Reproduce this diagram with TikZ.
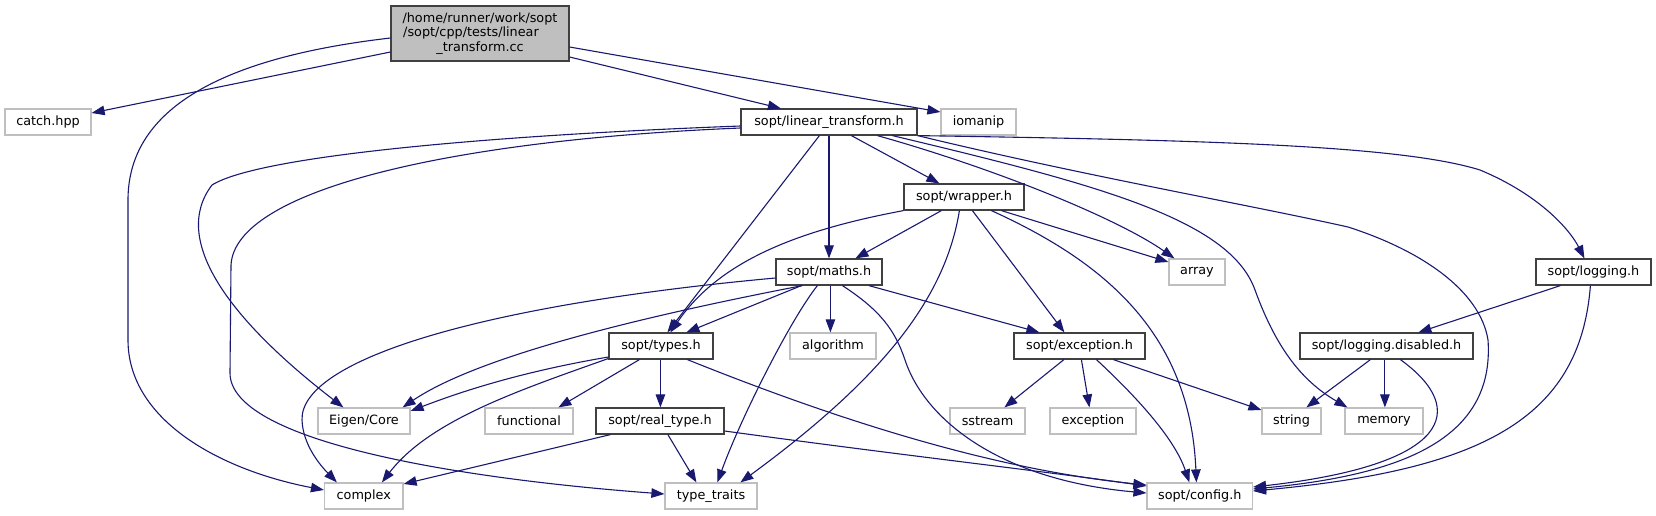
\documentclass[tikz,border=0pt]{standalone}
\usepackage{fontspec}
\newfontfamily\dv{DejaVu Sans}
\usetikzlibrary{arrows.meta}
\definecolor{edgec}{HTML}{191970}
\definecolor{hdrc}{HTML}{404040}
\definecolor{extc}{HTML}{BFBFBF}
\definecolor{rootc}{HTML}{BFBFBF}
\tikzset{
  boxbase/.style={rectangle, line width=1.2pt, fill=white, minimum height=26pt, inner sep=0pt,
    font=\dv\fontsize{12.8pt}{14.5pt}\selectfont},
  hdr/.style={boxbase, draw=hdrc},
  ext/.style={boxbase, draw=extc},
  dep/.style={draw=edgec, line width=1.1pt, -{Triangle[length=13pt,width=9.5pt]}}
}
\begin{document}
\begin{tikzpicture}[x=1pt,y=-1pt]
\useasboundingbox (0,0) rectangle (1656,515);
% nodes
\node[hdr, fill=rootc, minimum width=178pt, minimum height=55pt, align=center] (root) at (480,33.5)
  {/home/runner/work/sopt\\/sopt/cpp/tests/linear\rule{18pt}{0pt}\\\_transform.cc};
\node[ext, minimum width=86pt] (catch) at (48,122) {catch.hpp};
\node[hdr, minimum width=176pt] (lt) at (829,122) {sopt/linear\_transform.h};
\node[ext, minimum width=75pt] (iomanip) at (978.5,122) {iomanip};
\node[hdr, minimum width=120pt] (wrapper) at (964,197) {sopt/wrapper.h};
\node[hdr, minimum width=106pt] (maths) at (829,272) {sopt/maths.h};
\node[ext, minimum width=56pt] (array) at (1197,272) {array};
\node[hdr, minimum width=115pt] (logging) at (1593.5,272) {sopt/logging.h};
\node[hdr, minimum width=104pt] (types) at (661,346) {sopt/types.h};
\node[ext, minimum width=86pt] (algorithm) at (833,346) {algorithm};
\node[hdr, minimum width=131pt] (exch) at (1079.5,346) {sopt/exception.h};
\node[hdr, minimum width=173pt] (logdis) at (1386.5,346) {sopt/logging.disabled.h};
\node[ext, minimum width=92pt] (eigen) at (364,421) {Eigen/Core};
\node[ext, minimum width=88pt] (functional) at (529,421) {functional};
\node[hdr, minimum width=128pt] (realtype) at (660,421) {sopt/real\_type.h};
\node[ext, minimum width=75pt] (sstream) at (987.5,421) {sstream};
\node[ext, minimum width=86pt] (exception) at (1093,421) {exception};
\node[ext, minimum width=59pt] (string) at (1291.5,421) {string};
\node[ext, minimum width=78pt] (memory) at (1384,421) {memory};
\node[ext, minimum width=78.5pt] (complex) at (363.75,496) {complex};
\node[ext, minimum width=92pt] (typetraits) at (711,496) {type\_traits};
\node[ext, minimum width=105.5pt] (config) at (1199.75,496) {sopt/config.h};
% root edges
\draw[dep] ([yshift=-18.5pt]root.west) -- ([yshift=9pt]catch.east);
\draw[dep] ([yshift=-4.5pt]root.west) .. controls (200,60) and (128,120) .. (128,200) -- (128,340) .. controls (128,420) and (220,470) .. ([yshift=6pt]complex.west);
\draw[dep] ([yshift=-23.5pt]root.east) -- ([xshift=40.5pt]lt.north west);
\draw[dep] ([yshift=-13.5pt]root.east) -- ([yshift=10pt]iomanip.west);
% linear_transform edges
\draw[dep] ([yshift=-4pt]lt.west) .. controls (500,135) and (260,155) .. (212,185) .. controls (170,240) and (230,320) .. ([xshift=26pt]eigen.north west);
\draw[dep] ([yshift=-6pt]lt.west) .. controls (450,140) and (235,190) .. (231,265) -- (230,373) .. controls (230,440) and (450,478) .. ([yshift=2pt]typetraits.west);
\draw[dep] ([xshift=79pt]lt.south west) -- ([xshift=59pt]types.north west);
\draw[dep] (lt.south) -- (maths.north);
\draw[dep] ([xshift=111pt]lt.south west) -- ([xshift=36pt]wrapper.north west);
\draw[dep] ([xshift=137pt]lt.south west) .. controls (1000,170) and (1120,220) .. ([xshift=6pt]array.north west);
\draw[dep] ([xshift=152pt]lt.south west) .. controls (1100,185) and (1230,220) .. (1255,290) .. controls (1275,345) and (1300,380) .. ([xshift=3pt]memory.north west);
\draw[dep] (lt.south east) .. controls (1080,175) and (1250,205) .. (1348,227) .. controls (1420,250) and (1480,290) .. (1488,340) .. controls (1495,440) and (1400,475) .. ([yshift=7pt]config.east);
\draw[dep] (lt.south east) .. controls (1200,140) and (1400,145) .. (1480,170) .. controls (1540,195) and (1570,230) .. ([xshift=49pt]logging.north west);
% wrapper edges
\draw[dep] (wrapper.south west) .. controls (800,230) and (720,260) .. ([xshift=62pt]types.north west);
\draw[dep] ([xshift=38pt]wrapper.south west) -- ([xshift=80pt]maths.north west);
\draw[dep] ([xshift=56pt]wrapper.south west) .. controls (945,300) and (880,380) .. ([xshift=76pt]typetraits.north west);
\draw[dep] ([xshift=69pt]wrapper.south west) -- ([xshift=51pt]exch.north west);
\draw[dep] ([xshift=88pt]wrapper.south west) .. controls (1100,260) and (1190,330) .. ([xshift=50pt]config.north west);
\draw[dep] ([xshift=98pt]wrapper.south west) -- ([yshift=10pt]array.west);
% maths edges
\draw[dep] ([yshift=-6pt]maths.west) .. controls (480,305) and (300,360) .. (302,420) .. controls (303,445) and (320,465) .. ([xshift=13pt]complex.north west);
\draw[dep] ([xshift=27pt]maths.south west) .. controls (650,315) and (480,355) .. ([xshift=-8pt]eigen.north east);
\draw[dep] ([xshift=26pt]maths.south west) -- ([xshift=78pt]types.north west);
\draw[dep] ([xshift=42pt]maths.south west) .. controls (790,320) and (740,420) .. ([xshift=53pt]typetraits.north west);
\draw[dep] ([xshift=55pt]maths.south west) -- ([xshift=41pt]algorithm.north west);
\draw[dep] ([xshift=67pt]maths.south west) .. controls (880,310) and (895,330) .. (905,360) .. controls (925,420) and (1000,480) .. ([yshift=3pt]config.west);
\draw[dep] ([xshift=93.5pt]maths.south west) -- ([xshift=26pt]exch.north west);
% types edges
\draw[dep] ([yshift=-11pt]types.west) .. controls (520,372) and (460,392) .. ([yshift=10pt]eigen.east);
\draw[dep] ([yshift=-12.5pt]types.west) .. controls (520,390) and (430,420) .. ([xshift=58pt]complex.north west);
\draw[dep] ([xshift=31pt]types.south west) -- ([xshift=74pt]functional.north west);
\draw[dep] ([xshift=52pt]types.south west) -- ([xshift=65pt]realtype.north west);
\draw[dep] ([xshift=79pt]types.south west) .. controls (850,425) and (1000,470) .. ([yshift=11pt]config.west);
% real_type edges
\draw[dep] ([xshift=15pt]realtype.south west) -- ([yshift=12pt]complex.east);
\draw[dep] ([xshift=72.5pt]realtype.south west) -- ([xshift=32pt]typetraits.north west);
\draw[dep] ([yshift=-10pt]realtype.east) .. controls (900,455) and (1050,472) .. ([yshift=10pt]config.west);
% exception.h edges
\draw[dep] ([xshift=50.5pt]exch.south west) -- ([xshift=55pt]sstream.north west);
\draw[dep] ([xshift=68pt]exch.south west) -- ([xshift=40pt]exception.north west);
\draw[dep] ([xshift=83pt]exch.south west) .. controls (1140,400) and (1175,440) .. ([xshift=43pt]config.north west);
\draw[dep] ([xshift=100pt]exch.south west) -- ([yshift=11pt]string.west);
% logging edges
\draw[dep] ([xshift=25pt]logging.south west) -- ([xshift=119pt]logdis.north west);
\draw[dep] ([xshift=55pt]logging.south west) .. controls (1580,420) and (1480,470) .. ([yshift=5pt]config.east);
% logging.disabled edges
\draw[dep] ([xshift=71pt]logdis.south west) -- ([xshift=45pt]string.north west);
\draw[dep] ([xshift=85.5pt]logdis.south west) -- ([xshift=40.5pt]memory.north west);
\draw[dep] ([xshift=101pt]logdis.south west) .. controls (1470,410) and (1450,465) .. ([yshift=9pt]config.east);
\end{tikzpicture}
\end{document}
